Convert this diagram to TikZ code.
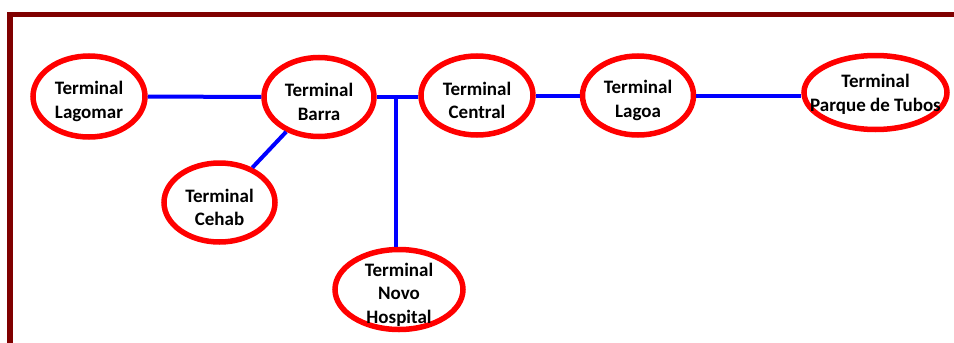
\documentclass[tikz,border=0pt]{standalone}
\usepackage{fontspec}
\setmainfont{Carlito}
\usetikzlibrary{shapes.geometric}

\tikzset{
  terminal/.style={draw=red,line width=5.5pt,ellipse,inner sep=0pt},
  termtext/.style={align=center,inner sep=0pt,yshift=-5pt,
    font=\fontsize{19}{23.5}\selectfont\bfseries},
  route/.style={draw=blue,line width=4pt}
}

\begin{document}
\begin{tikzpicture}[x=1pt,y=-1pt]
\useasboundingbox (0,0) rectangle (954,343);
% frame
\draw[line width=5.5pt,color={rgb,255:red,128;green,0;blue,0}] (10,343) -- (10,14.5) -- (954,14.5);

% terminals
\node[terminal,minimum width=112,minimum height=81,label={[termtext]center:Terminal\\Lagomar}] (lagomar) at (89,96.5) {};
\node[terminal,minimum width=110,minimum height=79,label={[termtext]center:Terminal\\Barra}] (barra) at (319,97) {};
\node[terminal,minimum width=112,minimum height=79,label={[termtext]center:Terminal\\Central}] (central) at (477,95.5) {};
\node[terminal,minimum width=111,minimum height=79,label={[termtext]center:Terminal\\Lagoa}] (lagoa) at (638,95.5) {};
\node[terminal,minimum width=143,minimum height=74,label={[termtext,yshift=3pt]center:Terminal\\Parque de Tubos}] (parque) at (875.5,92.5) {};
\node[terminal,minimum width=111,minimum height=79,label={[termtext]center:Terminal\\Cehab}] (cehab) at (219.5,202.5) {};
\node[terminal,minimum width=128,minimum height=80,label={[termtext]center:Terminal\\Novo\\Hospital}] (hospital) at (399,289.5) {};

% routes
\coordinate (junction) at (396,96.5);
\draw[route] (lagomar) -- (barra);
\draw[route] (barra) -- (cehab);
\draw[route] (barra.east |- junction) -- (central.west |- junction);
\draw[route] (junction) -- (hospital.north -| junction);
\draw[route] (central) -- (lagoa);
\draw[route] (lagoa) -- (parque.west |- lagoa);
\end{tikzpicture}
\end{document}
